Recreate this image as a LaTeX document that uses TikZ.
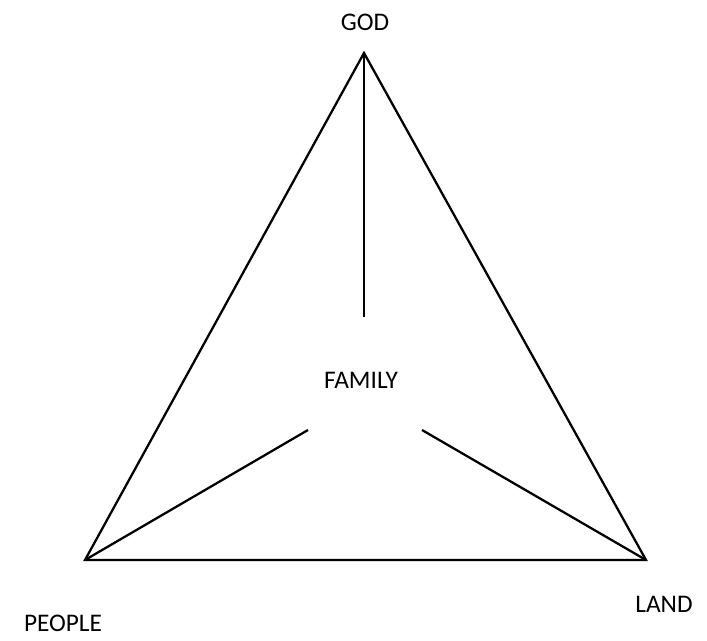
\documentclass[tikz,border=0pt]{standalone}
\usepackage{fontspec}
\setmainfont{Carlito}
\begin{document}
\begin{tikzpicture}[x=0.75pt,y=-0.75pt,
  edge/.style={line width=1.7pt,line join=miter},
  lbl/.style={font=\fontsize{19pt}{22pt}\selectfont,inner sep=0pt,anchor=center}]
\useasboundingbox (0,0) rectangle (707,641);
\coordinate (top) at (364,53);
\coordinate (bl) at (85,560);
\coordinate (br) at (646,560);
\coordinate (ct) at (364,317);
\coordinate (cl) at (308,430);
\coordinate (cr) at (422,430);
\draw[edge] (top) -- (br) -- (bl) -- cycle;
\draw[edge] (top) -- (ct);
\draw[edge] (bl) -- (cl);
\draw[edge] (br) -- (cr);
\node[lbl] (god) at (365,22) {GOD};
\node[lbl] (family) at (361,380) {FAMILY};
\node[lbl] (people) at (63,623) {PEOPLE};
\node[lbl] (land) at (664,604) {LAND};
\end{tikzpicture}
\end{document}
